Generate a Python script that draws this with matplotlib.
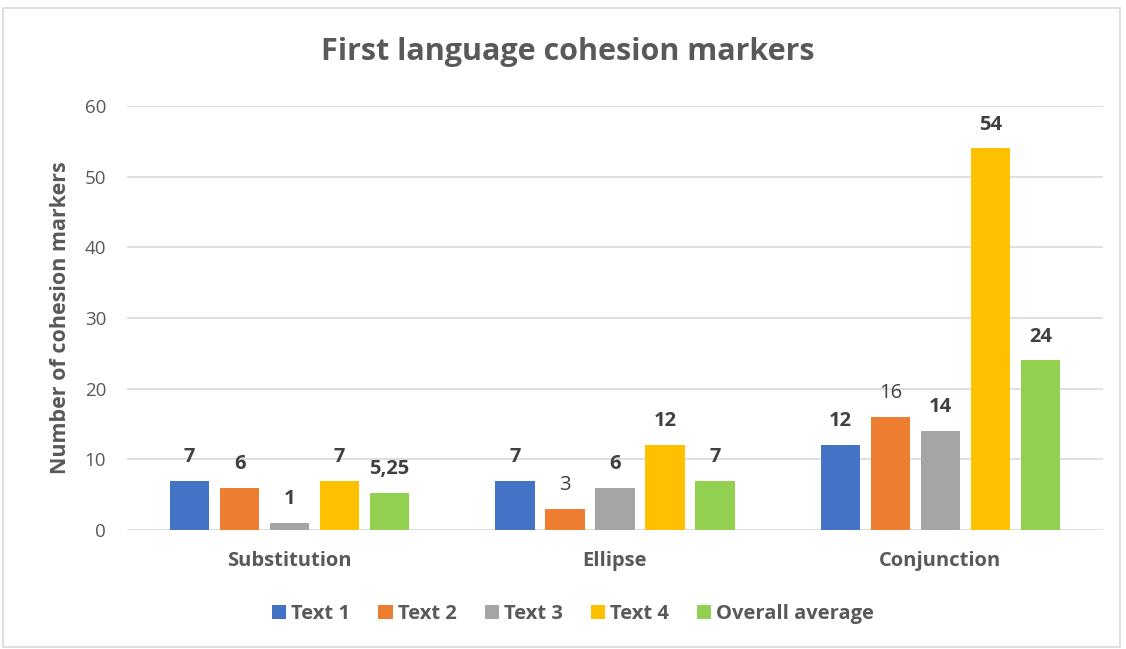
import matplotlib.pyplot as plt
from matplotlib.patches import Rectangle
import numpy as np

plt.rcParams['font.family'] = ['Open Sans', 'DejaVu Sans']

categories = ['Substitution', 'Ellipse', 'Conjunction']
series_names = ['Text 1', 'Text 2', 'Text 3', 'Text 4', 'Overall average']
text1 = [7, 7, 12]
text2 = [6, 3, 16]
text3 = [1, 6, 14]
text4 = [7, 12, 54]
overall = [5.25, 7, 24]
# labels drawn in normal weight in the original (rest are bold)
light_labels = {(1, 1), (1, 2)}  # (series index, category index)

colors = ['#4472C4', '#ED7D31', '#A5A5A5', '#FFC000', '#92D050']
txt_gray = '#595959'
lbl_gray = '#404040'

fig = plt.figure(figsize=(11.26, 6.49), dpi=100)
ax = fig.add_axes([127/1126, 1-530/649, (1103-127)/1126, (530-106)/649])

x = np.arange(len(categories))
step = 0.1537
width = 0.12
all_series = [text1, text2, text3, text4, overall]
for i, (vals, name, c) in enumerate(zip(all_series, series_names, colors)):
    pos = x + (i - 2) * step
    ax.bar(pos, vals, width, color=c, label=name, zorder=3)
    for j, v in enumerate(vals):
        s = ('%g' % v).replace('.', ',')
        w = 'normal' if (i, j) in light_labels else 'bold'
        ax.annotate(s, (pos[j], v), xytext=(0, 10), textcoords='offset points',
                    ha='center', va='bottom', fontsize=14.5, fontweight=w,
                    color=lbl_gray)

ax.set_xlim(-0.5, 2.5)
ax.set_ylim(0, 60)
ax.set_yticks(np.arange(0, 61, 10))
ax.grid(axis='y', color='#D9D9D9', linewidth=1.2, zorder=0)
for sp in ax.spines.values():
    sp.set_visible(False)
ax.tick_params(axis='both', length=0)
ax.tick_params(axis='y', labelsize=13.5, labelcolor=txt_gray, pad=15)
ax.set_xticks(x)
ax.set_xticklabels(categories, fontsize=14.5, fontweight='bold', color=txt_gray)
ax.tick_params(axis='x', pad=15)
ax.set_ylabel('Number of cohesion markers', fontsize=15.5, fontweight='bold',
              color=txt_gray, labelpad=10)

fig.text(0.504, 0.92, 'First language cohesion markers', ha='center', va='center',
         fontsize=22, fontweight='bold', color=txt_gray)

leg = fig.legend(loc='center', bbox_to_anchor=(0.509, 0.054), ncol=5, frameon=False,
                 handlelength=0.7, handleheight=0.7, handletextpad=0.25,
                 columnspacing=1.4, prop={'size': 14.5, 'weight': 'bold'})
for t in leg.get_texts():
    t.set_color(txt_gray)

fig.patches.append(Rectangle((3/1126, 2/649), 1117/1126, 639/649, transform=fig.transFigure,
                             fill=False, edgecolor='#D9D9D9', linewidth=1.2))

fig.savefig('out.png', dpi=100)
